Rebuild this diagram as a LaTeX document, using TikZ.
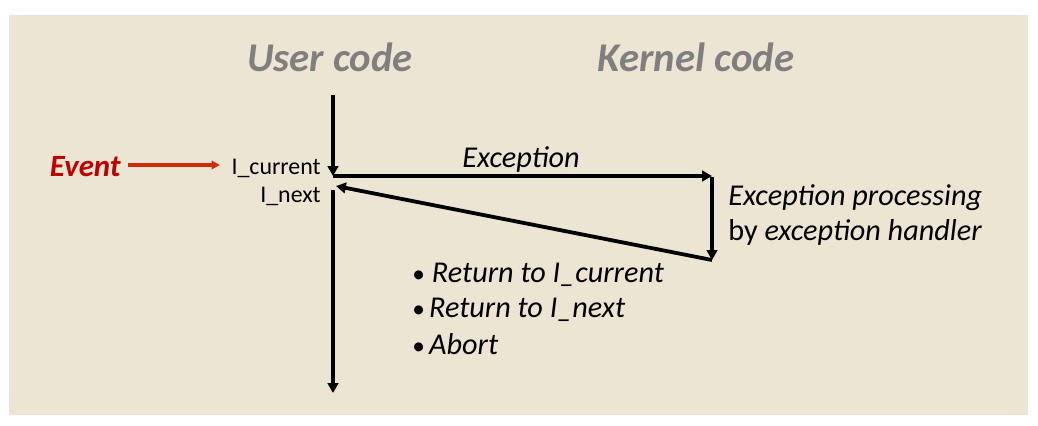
\documentclass[tikz,border=0pt]{standalone}
\usepackage{fontspec}
\setmainfont{Carlito}
\usetikzlibrary{arrows.meta}
\definecolor{paper}{RGB}{237,229,212}
\definecolor{titlegray}{RGB}{127,127,127}
\definecolor{eventred}{RGB}{192,0,0}
\definecolor{arrowred}{RGB}{208,44,12}
\tikzset{
    flow/.style={line width=2.7pt,-{Triangle[length=7pt,width=7.5pt]}},
    evflow/.style={arrowred,line width=2.2pt,-{Triangle[length=6pt,width=6pt]}},
    heading/.style={anchor=base,inner sep=0pt,text=titlegray,font=\fontsize{29}{34}\selectfont\bfseries\itshape},
    note/.style={anchor=base west,inner sep=0pt,font=\fontsize{21.5}{26}\selectfont},
    instr/.style={anchor=base east,inner sep=0pt,font=\fontsize{17}{20}\selectfont}
}
\newcommand{\dotmark}{{\fontsize{18}{20}\selectfont\textbullet}}

\begin{document}
\begin{tikzpicture}[x=0.025cm,y=-0.025cm]
            \useasboundingbox (0,0) rectangle (1038,426);
            \fill[paper] (9,15) rectangle (1028,415);
            \node[heading] (user) at (330,72) {User code};
            \node[heading] (kernel) at (696,72) {Kernel code};
            \coordinate (u_top) at (333,95);
            \coordinate (u_cur) at (333,176);
            \coordinate (u_next) at (336,186);
            \coordinate (u_res) at (333,190);
            \coordinate (u_end) at (333,393);
            \coordinate (k_top) at (712,176);
            \coordinate (k_end) at (712,260);
            \draw[flow] (u_top) -- (u_cur);
            \draw[flow] (u_cur) -- (k_top);
            \draw[flow] ([yshift=-1pt]k_top) -- (k_end);
            \draw[flow] (k_end) -- (u_next);
            \draw[flow] (u_res) -- (u_end);
            \node[instr] (icur) at (321,175) {I\_current};
            \node[instr] (inext) at (321,202) {I\_next};
            \node[anchor=base east,inner sep=0pt,text=eventred,font=\fontsize{22}{26}\selectfont\bfseries\itshape] (event) at (121,177) {Event};
            \coordinate (ev_to) at (220,165);
            \draw[evflow,shorten <=5pt] (event.east |- ev_to) -- (ev_to);
            \node[note,anchor=base] (exc) at (521,168) {\itshape Exception};
            \node[note] (proc) at (728,205) {\itshape Exception processing};
            \node[note] (hand) at (728,240) {by \itshape exception handler};
            \node[note] (r1) at (412,282) {\dotmark\hspace{5pt}\itshape Return to I\_current};
            \node[note] (r2) at (412,317) {\dotmark\hspace{3pt}\itshape Return to I\_next};
            \node[note] (r3) at (412,354) {\dotmark\hspace{3pt}\itshape Abort};
        \end{tikzpicture}
\end{document}
